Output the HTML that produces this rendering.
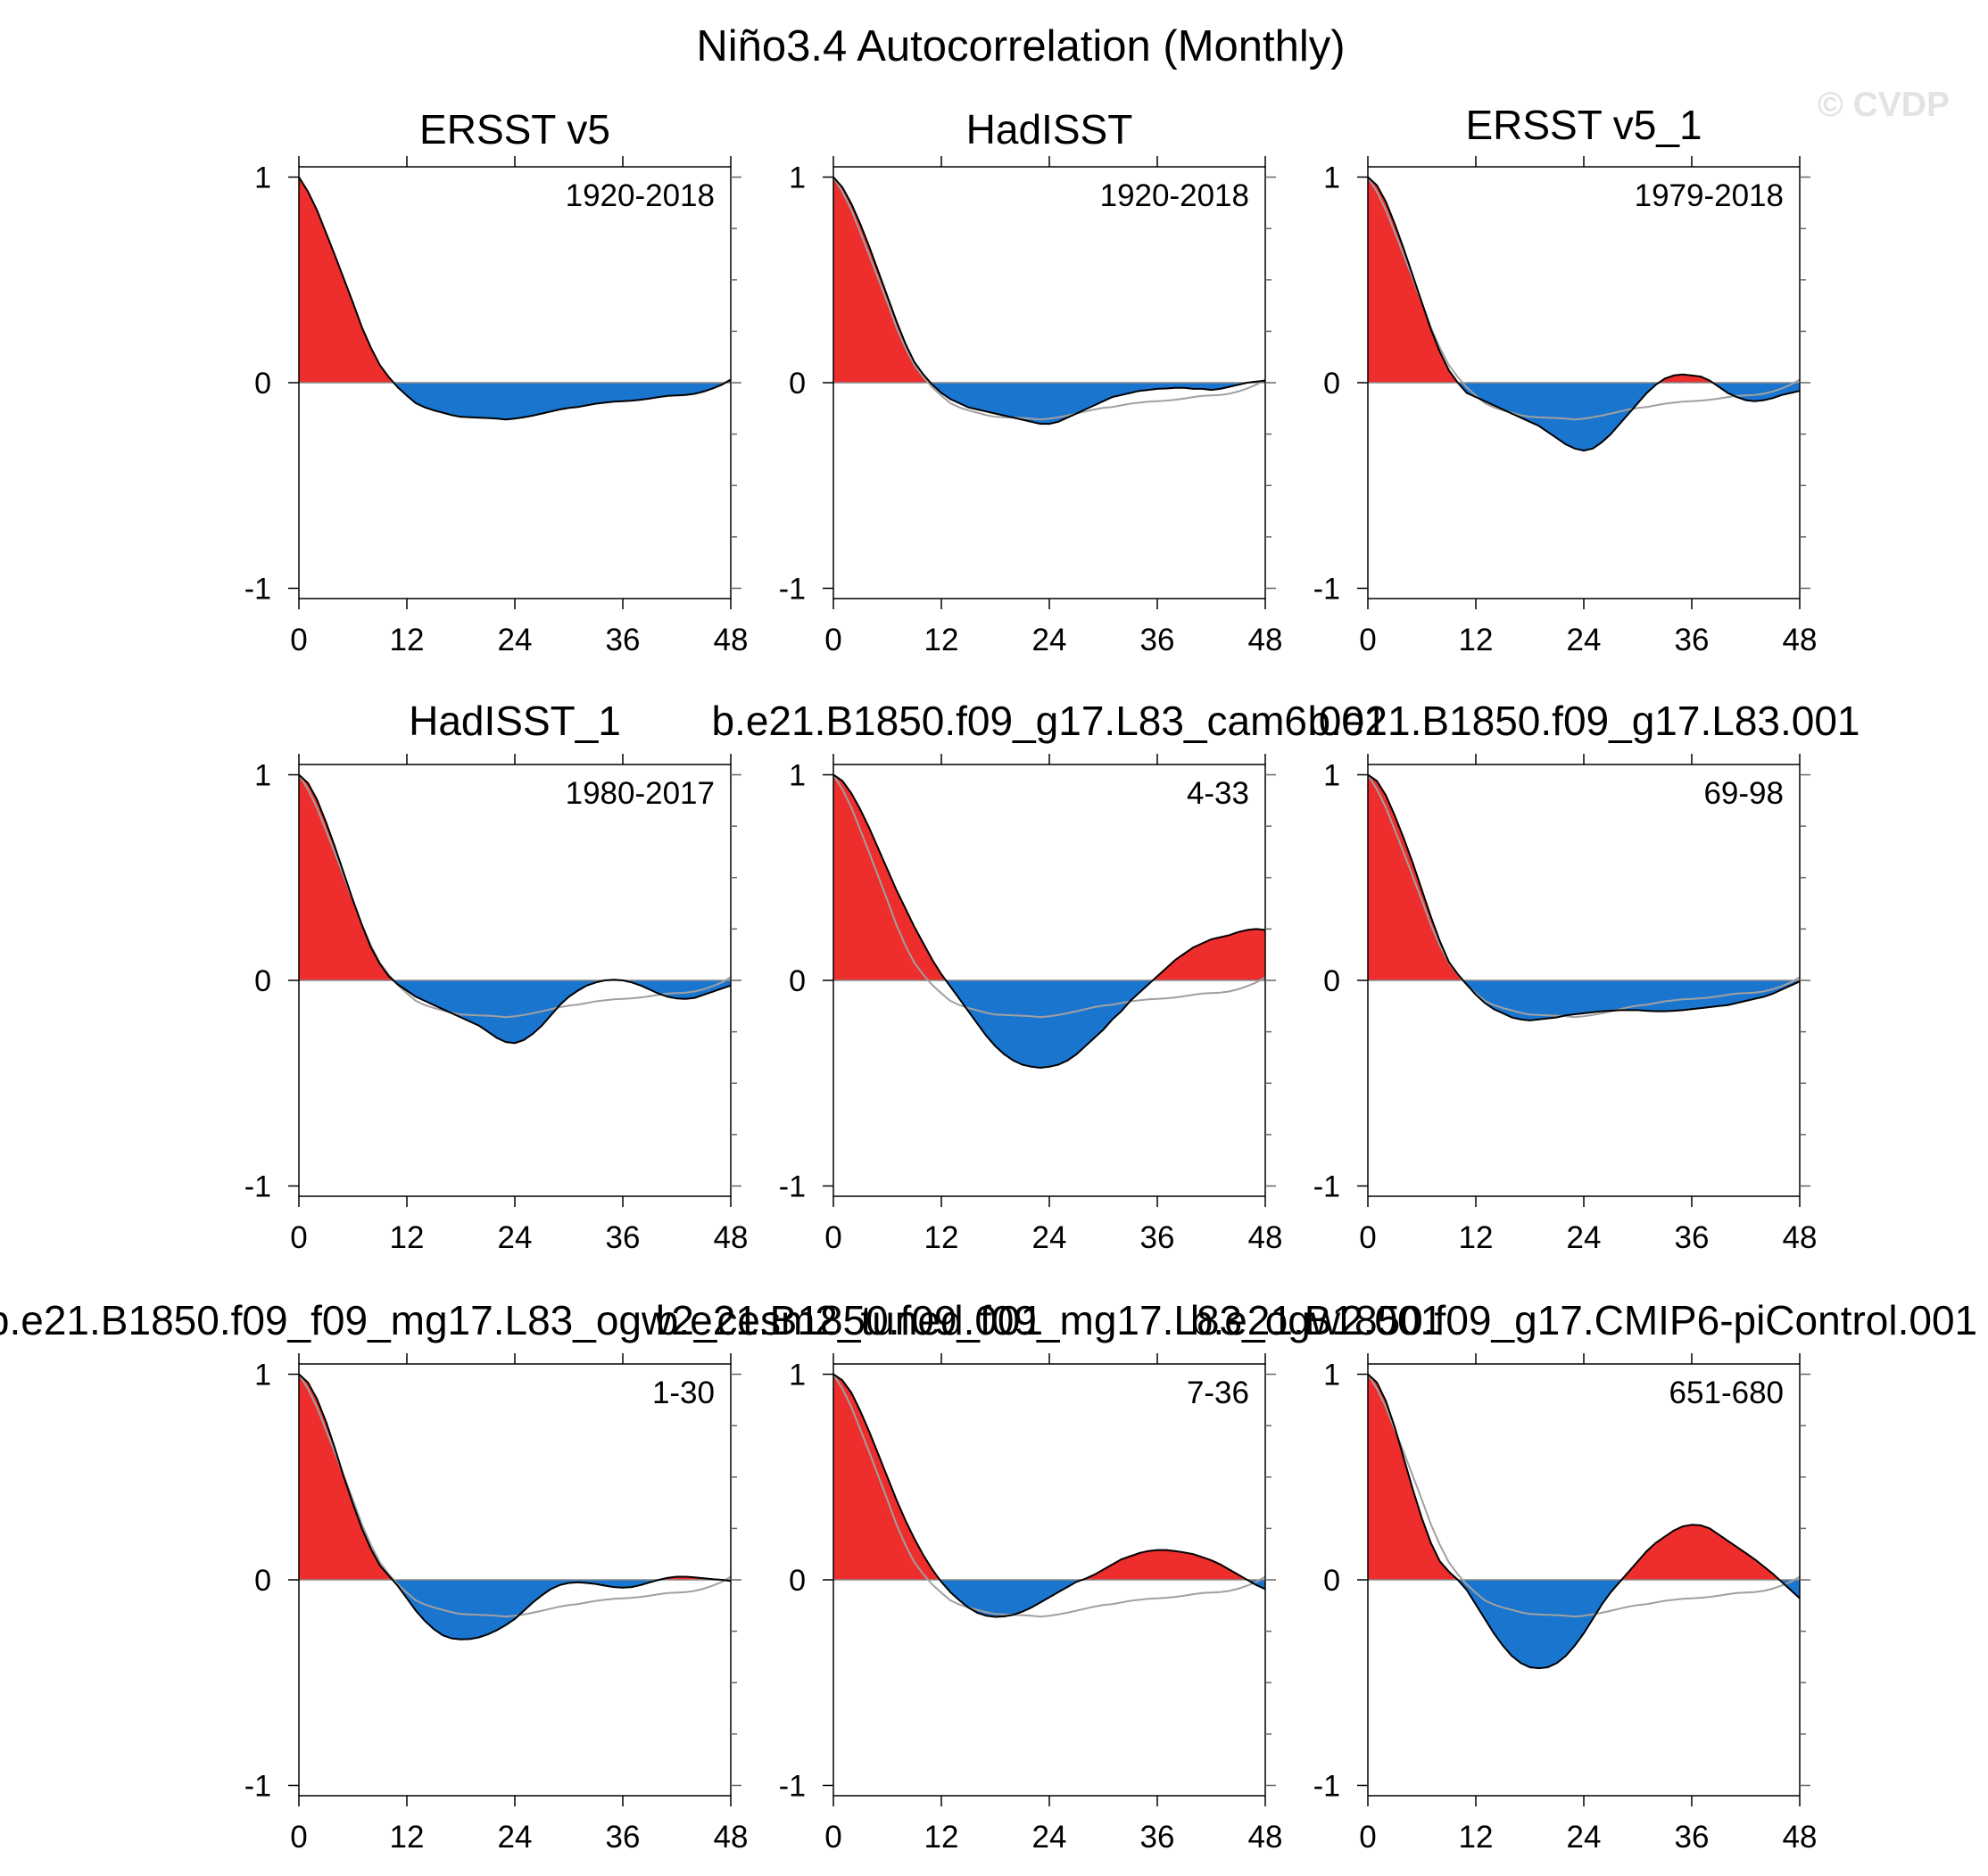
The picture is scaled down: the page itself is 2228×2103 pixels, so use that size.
<!DOCTYPE html>
<html><head><meta charset="utf-8"><style>
html,body{margin:0;padding:0;background:#fff;}
svg{display:block;font-family:"Liberation Sans",sans-serif;}
</style></head><body>
<svg id="c" width="2228" height="2103" viewBox="0 0 2228 2103">
<text x="1144" y="68" font-size="49" text-anchor="middle">Niño3.4 Autocorrelation (Monthly)</text>
<text x="2111" y="130" font-size="39" font-weight="bold" fill="#e3e3e3" text-anchor="middle">© CVDP</text>
</svg>
<script>
const lags = Array.from({length:49},(_,i)=>i);
const xTicks = [0,12,24,36,48];
const yTicks = [1,0,-1];
const titles = ["ERSST v5","HadISST","ERSST v5_1","HadISST_1","b.e21.B1850.f09_g17.L83_cam6.001","b.e21.B1850.f09_g17.L83.001","b.e21.B1850.f09_f09_mg17.L83_ogw2_cesm2_tuned.001","b.e21.B1850.f09_f09_mg17.L83_ogw2.001","b.e21.B1850.f09_g17.CMIP6-piControl.001"];
const periods = ["1920-2018","1920-2018","1979-2018","1980-2017","4-33","69-98","1-30","7-36","651-680"];
const obsRef = [1,0.93,0.84,0.73,0.62,0.505,0.39,0.27,0.17,0.085,0.027,-0.023,-0.063,-0.1,-0.12,-0.135,-0.146,-0.158,-0.166,-0.168,-0.17,-0.172,-0.175,-0.179,-0.175,-0.168,-0.16,-0.15,-0.14,-0.13,-0.123,-0.118,-0.11,-0.102,-0.097,-0.092,-0.09,-0.087,-0.083,-0.077,-0.07,-0.064,-0.062,-0.06,-0.054,-0.043,-0.028,-0.01,0.015];
const s2 = [1,0.95,0.87,0.77,0.66,0.54,0.42,0.3,0.19,0.1,0.04,-0.01,-0.05,-0.08,-0.1,-0.12,-0.13,-0.14,-0.15,-0.16,-0.17,-0.18,-0.19,-0.2,-0.2,-0.19,-0.17,-0.15,-0.13,-0.11,-0.09,-0.07,-0.06,-0.05,-0.04,-0.035,-0.03,-0.028,-0.025,-0.025,-0.03,-0.03,-0.035,-0.03,-0.02,-0.01,0,0.005,0.01];
const s3 = [1,0.96,0.88,0.77,0.65,0.52,0.39,0.26,0.15,0.06,0.0,-0.05,-0.07,-0.09,-0.11,-0.13,-0.15,-0.17,-0.19,-0.21,-0.24,-0.27,-0.3,-0.32,-0.33,-0.32,-0.29,-0.25,-0.2,-0.15,-0.1,-0.05,-0.01,0.02,0.035,0.04,0.035,0.03,0.01,-0.02,-0.05,-0.07,-0.085,-0.09,-0.085,-0.075,-0.06,-0.05,-0.04];
const s4 = [1,0.96,0.88,0.77,0.65,0.52,0.39,0.27,0.16,0.08,0.02,-0.02,-0.05,-0.08,-0.1,-0.12,-0.14,-0.16,-0.18,-0.2,-0.22,-0.25,-0.28,-0.3,-0.305,-0.29,-0.26,-0.22,-0.17,-0.12,-0.08,-0.05,-0.025,-0.01,0,0.003,0,-0.01,-0.025,-0.045,-0.065,-0.08,-0.088,-0.09,-0.085,-0.07,-0.055,-0.04,-0.025];
const s5 = [1,0.97,0.91,0.83,0.74,0.64,0.54,0.44,0.35,0.26,0.18,0.1,0.03,-0.03,-0.09,-0.15,-0.21,-0.27,-0.32,-0.36,-0.39,-0.41,-0.42,-0.425,-0.42,-0.41,-0.39,-0.36,-0.32,-0.28,-0.24,-0.19,-0.15,-0.1,-0.06,-0.02,0.02,0.06,0.1,0.13,0.16,0.18,0.2,0.21,0.22,0.235,0.245,0.25,0.245];
const s6 = [1,0.97,0.9,0.8,0.69,0.57,0.44,0.31,0.19,0.09,0.03,-0.02,-0.07,-0.11,-0.14,-0.16,-0.18,-0.19,-0.195,-0.19,-0.185,-0.18,-0.17,-0.165,-0.16,-0.155,-0.15,-0.148,-0.145,-0.145,-0.145,-0.148,-0.15,-0.15,-0.148,-0.145,-0.14,-0.135,-0.13,-0.125,-0.12,-0.11,-0.1,-0.09,-0.08,-0.065,-0.045,-0.025,-0.005];
const s7 = [1,0.96,0.88,0.77,0.64,0.5,0.37,0.25,0.15,0.07,0.02,-0.03,-0.09,-0.15,-0.2,-0.24,-0.27,-0.285,-0.29,-0.288,-0.28,-0.265,-0.245,-0.22,-0.19,-0.15,-0.11,-0.075,-0.045,-0.025,-0.015,-0.012,-0.015,-0.02,-0.028,-0.035,-0.038,-0.035,-0.025,-0.012,0,0.01,0.015,0.015,0.012,0.008,0.003,0,-0.005];
const s8 = [1,0.97,0.91,0.82,0.72,0.61,0.5,0.39,0.29,0.2,0.12,0.05,-0.01,-0.06,-0.1,-0.135,-0.16,-0.175,-0.18,-0.178,-0.17,-0.155,-0.135,-0.11,-0.085,-0.06,-0.035,-0.01,0.005,0.025,0.05,0.075,0.1,0.115,0.13,0.14,0.145,0.145,0.14,0.133,0.125,0.11,0.095,0.075,0.05,0.025,0,-0.025,-0.045];
const s9 = [1,0.96,0.87,0.74,0.59,0.44,0.3,0.18,0.09,0.04,0.0,-0.05,-0.12,-0.19,-0.26,-0.32,-0.37,-0.405,-0.425,-0.43,-0.425,-0.405,-0.37,-0.32,-0.26,-0.19,-0.12,-0.06,-0.01,0.04,0.09,0.14,0.18,0.21,0.24,0.26,0.268,0.265,0.25,0.22,0.19,0.16,0.13,0.1,0.065,0.03,-0.01,-0.05,-0.09];
const series = [obsRef,s2,s3,s4,s5,s6,s7,s8,s9];

const NS="http://www.w3.org/2000/svg";
const svg=document.getElementById('c');
function mk(tag,attrs,parent){const e=document.createElementNS(NS,tag);for(const k in attrs)e.setAttribute(k,attrs[k]);(parent||svg).appendChild(e);return e;}
const colL=[335,934,1533], rowT=[187,857,1529], W=484, H=484, YMIN=-1.05, YMAX=1.05;
series.forEach((vals,p)=>{
  const r=Math.floor(p/3);
  const L=colL[p%3], T=rowT[r];
  const X=v=>L+v/48*W;
  const Y=v=>T+(YMAX-v)/(YMAX-YMIN)*H;
  const g=mk('g',{});
  
  
  const y0=Y(0);
  const cpA=mk('clipPath',{id:'ca'+p},g); mk('rect',{x:L,y:T,width:W,height:y0-T},cpA);
  const cpB=mk('clipPath',{id:'cb'+p},g); mk('rect',{x:L,y:y0,width:W,height:T+H-y0},cpB);
  const pts=lags.map((l,i)=>X(l).toFixed(1)+','+Y(vals[i]).toFixed(1));
  const area='M'+X(0)+','+y0+' L'+pts.join(' L')+' L'+X(48)+','+y0+' Z';
  const pos=mk('path',{d:area,fill:'#ee2d2d','clip-path':'url(#ca'+p+')'},g);
  
  
  const neg=mk('path',{d:area,fill:'#1a75cf','clip-path':'url(#cb'+p+')'},g);
  
  
  const zl=mk('line',{x1:L,x2:L+W,y1:y0,y2:y0,stroke:'#888','stroke-width':1.5},g);
  
  
  if(p>0){
    const ref=mk('polyline',{points:lags.map((l,i)=>X(l).toFixed(1)+','+Y(obsRef[i]).toFixed(1)).join(' '),fill:'none',stroke:'#a0a0a0','stroke-width':2},g);
    
    
  }
  const ln=mk('polyline',{points:pts.join(' '),fill:'none',stroke:'#000','stroke-width':2},g);
  
  
  const fr=mk('rect',{x:L,y:T,width:W,height:H,fill:'none',stroke:'#000','stroke-width':1.5},g);
  
  
  for(let v=-1;v<=1.001;v+=0.25){
    const yy=Y(v), major=Math.abs(v-Math.round(v))<1e-6;
    mk('line',{x1:L,x2:L-(major?12:0),y1:yy,y2:yy,stroke:'#000','stroke-width':1.5},g);
    mk('line',{x1:L+W,x2:L+W+(major?12:7),y1:yy,y2:yy,stroke:'#666','stroke-width':1.5},g);
  }
  xTicks.forEach(t=>{
    mk('line',{x1:X(t),x2:X(t),y1:T+H,y2:T+H+12,stroke:'#000','stroke-width':1.5},g);
    mk('line',{x1:X(t),x2:X(t),y1:T,y2:T-12,stroke:'#000','stroke-width':1.5},g);
    const tx=mk('text',{x:X(t),y:T+H+58,'font-size':35,'text-anchor':'middle'},g);
    
    
    tx.textContent=t;
  });
  yTicks.forEach(t=>{
    const ty=mk('text',{x:L-31,y:Y(t)+12,'font-size':34,'text-anchor':'end'},g);
    
    
    ty.textContent=t;
  });
  const pl=mk('text',{x:L+W-18,y:T+44,'font-size':35,'text-anchor':'end'},g);
  
  
  pl.textContent=periods[p];
  const tt=mk('text',{x:L+W/2,y:T-(r===0?26:33)+(p===2?-5:0),'font-size':46,'text-anchor':'middle'},g);
  
  
  tt.textContent=titles[p];
});
</script>
</body></html>
